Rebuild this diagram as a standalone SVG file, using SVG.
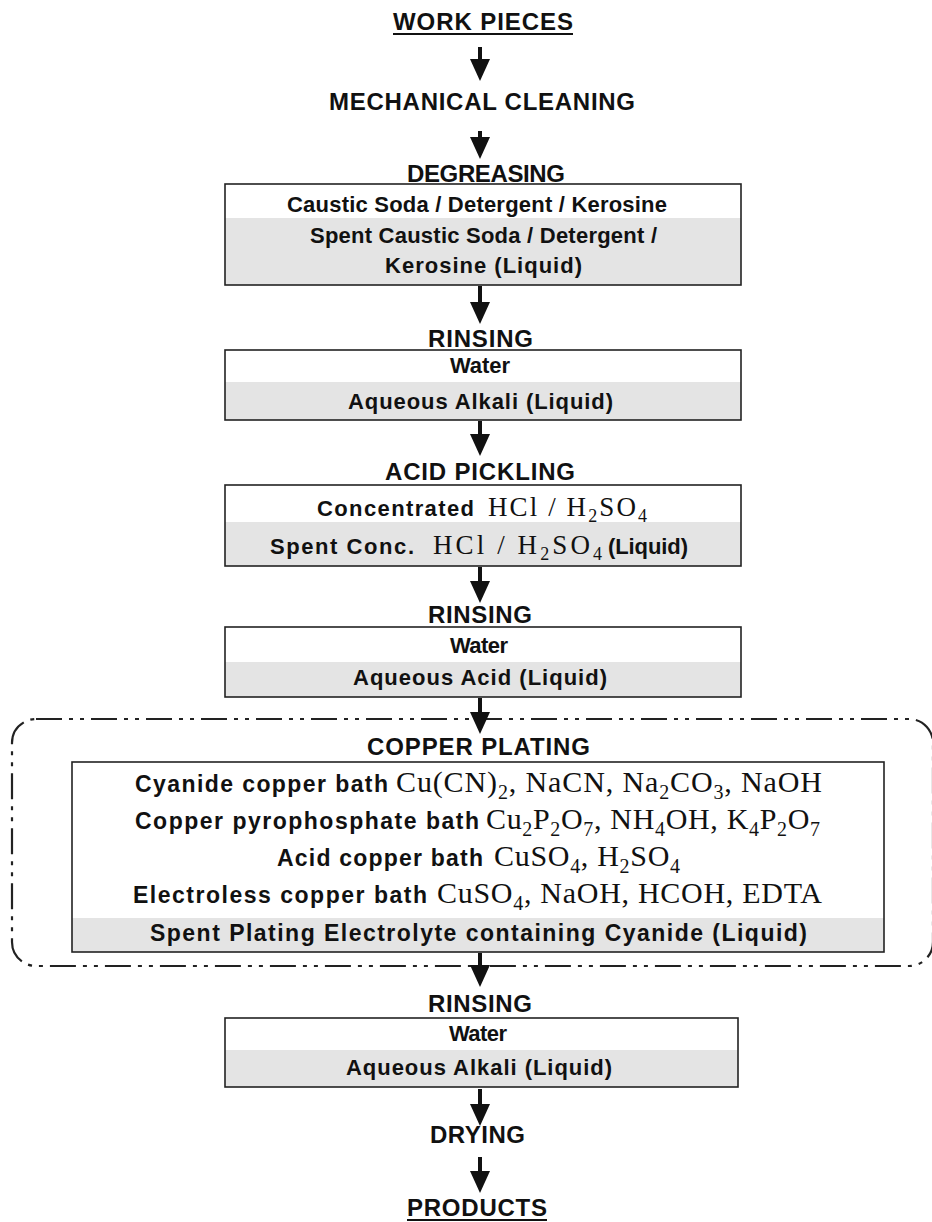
<svg xmlns="http://www.w3.org/2000/svg" width="932" height="1222" viewBox="0 0 932 1222">
<defs>
<style>
.h{font-family:"Liberation Sans",Arial,sans-serif;font-weight:bold;font-size:24px;fill:#111}
.t{font-family:"Liberation Sans",Arial,sans-serif;font-weight:bold;font-size:22px;fill:#111}
.tc{font-family:"Liberation Sans",Arial,sans-serif;font-weight:bold;font-size:23px;fill:#111}
.fa{font-family:"Liberation Serif","Times New Roman",serif;font-weight:normal;font-size:27px;fill:#111}
.fc{font-family:"Liberation Serif","Times New Roman",serif;font-weight:normal;font-size:30px;fill:#111}
.sa{font-size:18px}
.sc{font-size:20px}
.gray{fill:#e4e4e4;stroke:none}
.frame{fill:none;stroke:#222;stroke-width:1.6}
.ul{stroke:#111;stroke-width:2}
.shaft{stroke:#111;stroke-width:4;fill:none;marker-end:url(#head)}
.dash{fill:none;stroke:#222;stroke-width:2.2;stroke-dasharray:26 7 4 7 4 7}
</style>
<marker id="head" markerUnits="userSpaceOnUse" markerWidth="22" markerHeight="20" refX="0" refY="10" orient="auto" viewBox="0 0 22 20">
<path d="M0,0 L22,10 L0,20 Z" fill="#111"/>
</marker>
</defs>
<rect x="0" y="0" width="932" height="1222" fill="#fff"/>

<g id="n-workpieces">
<text class="h" x="393" y="30" textLength="180" lengthAdjust="spacing">WORK PIECES</text>
<line class="ul" x1="393" y1="34" x2="573" y2="34"/>
</g>

<g id="n-mechanical">
<text class="h" x="329" y="110" textLength="306" lengthAdjust="spacing">MECHANICAL CLEANING</text>
</g>

<g id="n-degreasing">
<text class="h" x="407" y="182" textLength="158" lengthAdjust="spacing">DEGREASING</text>
<rect class="gray" x="225" y="218" width="516" height="67"/>
<rect class="frame" x="225" y="184" width="516" height="101"/>
<text class="t" x="287" y="212" textLength="380" lengthAdjust="spacing">Caustic Soda / Detergent / Kerosine</text>
<text class="t" x="310" y="243" textLength="347" lengthAdjust="spacing">Spent Caustic Soda / Detergent /</text>
<text class="t" x="385" y="273" textLength="197" lengthAdjust="spacing">Kerosine (Liquid)</text>
</g>

<g id="n-rinsing1">
<text class="h" x="428" y="347" textLength="105" lengthAdjust="spacing">RINSING</text>
<rect class="gray" x="225" y="382" width="516" height="38"/>
<rect class="frame" x="225" y="350" width="516" height="70"/>
<text class="t" x="450" y="373" textLength="60" lengthAdjust="spacing">Water</text>
<text class="t" x="348" y="409" textLength="265" lengthAdjust="spacing">Aqueous Alkali (Liquid)</text>
</g>

<g id="n-acid">
<text class="h" x="385" y="480" textLength="190" lengthAdjust="spacing">ACID PICKLING</text>
<rect class="gray" x="225" y="522" width="516" height="44"/>
<rect class="frame" x="225" y="485" width="516" height="81"/>
<text class="t" x="317" y="516" textLength="157" lengthAdjust="spacing">Concentrated</text>
<text class="fa" x="488" y="516" textLength="159" lengthAdjust="spacing">HCl / H<tspan class="sa" dy="6">2</tspan><tspan dy="-6">SO</tspan><tspan class="sa" dy="6">4</tspan></text>
<text class="t" x="270" y="554" textLength="144" lengthAdjust="spacing">Spent Conc.</text>
<text class="fa" x="433" y="554" textLength="169" lengthAdjust="spacing">HCl / H<tspan class="sa" dy="6">2</tspan><tspan dy="-6">SO</tspan><tspan class="sa" dy="6">4</tspan></text>
<text class="t" x="608" y="554" textLength="80" lengthAdjust="spacing">(Liquid)</text>
</g>

<g id="n-rinsing2">
<text class="h" x="428" y="623" textLength="104" lengthAdjust="spacing">RINSING</text>
<rect class="gray" x="225" y="662" width="516" height="35"/>
<rect class="frame" x="225" y="627" width="516" height="70"/>
<text class="t" x="450" y="653" textLength="58" lengthAdjust="spacing">Water</text>
<text class="t" x="353" y="685" textLength="254" lengthAdjust="spacing">Aqueous Acid (Liquid)</text>
</g>

<g id="n-copper">
<rect class="dash" x="12" y="719" width="921" height="247" rx="24" ry="24"/>
<text class="h" x="367" y="755" textLength="223" lengthAdjust="spacing">COPPER PLATING</text>
<rect class="gray" x="72" y="918" width="812" height="34"/>
<rect class="frame" x="72" y="762" width="812" height="190"/>
<text class="tc" x="135" y="792" textLength="253" lengthAdjust="spacing">Cyanide copper bath</text>
<text class="fc" x="396" y="792" textLength="426" lengthAdjust="spacing">Cu(CN)<tspan class="sc" dy="7">2</tspan><tspan dy="-7">, NaCN, Na</tspan><tspan class="sc" dy="7">2</tspan><tspan dy="-7">CO</tspan><tspan class="sc" dy="7">3</tspan><tspan dy="-7">, NaOH</tspan></text>
<text class="tc" x="135" y="829" textLength="344" lengthAdjust="spacing">Copper pyrophosphate bath</text>
<text class="fc" x="486" y="829" textLength="334" lengthAdjust="spacing">Cu<tspan class="sc" dy="7">2</tspan><tspan dy="-7">P</tspan><tspan class="sc" dy="7">2</tspan><tspan dy="-7">O</tspan><tspan class="sc" dy="7">7</tspan><tspan dy="-7">, NH</tspan><tspan class="sc" dy="7">4</tspan><tspan dy="-7">OH, K</tspan><tspan class="sc" dy="7">4</tspan><tspan dy="-7">P</tspan><tspan class="sc" dy="7">2</tspan><tspan dy="-7">O</tspan><tspan class="sc" dy="7">7</tspan></text>
<text class="tc" x="277" y="866" textLength="206" lengthAdjust="spacing">Acid copper bath</text>
<text class="fc" x="494" y="866" textLength="186" lengthAdjust="spacing">CuSO<tspan class="sc" dy="7">4</tspan><tspan dy="-7">, H</tspan><tspan class="sc" dy="7">2</tspan><tspan dy="-7">SO</tspan><tspan class="sc" dy="7">4</tspan></text>
<text class="tc" x="133" y="903" textLength="294" lengthAdjust="spacing">Electroless copper bath</text>
<text class="fc" x="437" y="903" textLength="385" lengthAdjust="spacing">CuSO<tspan class="sc" dy="7">4</tspan><tspan dy="-7">, NaOH, HCOH, EDTA</tspan></text>
<text class="tc" x="150" y="941" textLength="657" lengthAdjust="spacing">Spent Plating Electrolyte containing Cyanide (Liquid)</text>
</g>

<g id="n-rinsing3">
<text class="h" x="428" y="1012" textLength="104" lengthAdjust="spacing">RINSING</text>
<rect class="gray" x="225" y="1050" width="513" height="37"/>
<rect class="frame" x="225" y="1018" width="513" height="69"/>
<text class="t" x="449" y="1041" textLength="58" lengthAdjust="spacing">Water</text>
<text class="t" x="346" y="1075" textLength="266" lengthAdjust="spacing">Aqueous Alkali (Liquid)</text>
</g>

<g id="n-drying">
<text class="h" x="430" y="1143" textLength="95" lengthAdjust="spacing">DRYING</text>
</g>

<g id="n-products">
<text class="h" x="407" y="1216" textLength="140" lengthAdjust="spacing">PRODUCTS</text>
<line class="ul" x1="407" y1="1220" x2="547" y2="1220"/>
</g>

<g id="connectors">
<line class="shaft" x1="480" y1="47" x2="480" y2="59"/>
<line class="shaft" x1="480" y1="131" x2="480" y2="137"/>
<line class="shaft" x1="480" y1="286" x2="480" y2="302"/>
<line class="shaft" x1="480" y1="421" x2="480" y2="434"/>
<line class="shaft" x1="480" y1="567" x2="480" y2="581"/>
<line class="shaft" x1="480" y1="698" x2="480" y2="712"/>
<line class="shaft" x1="480" y1="953" x2="480" y2="965"/>
<line class="shaft" x1="480" y1="1089" x2="480" y2="1104"/>
<line class="shaft" x1="480" y1="1157" x2="480" y2="1171"/>
</g>
</svg>
